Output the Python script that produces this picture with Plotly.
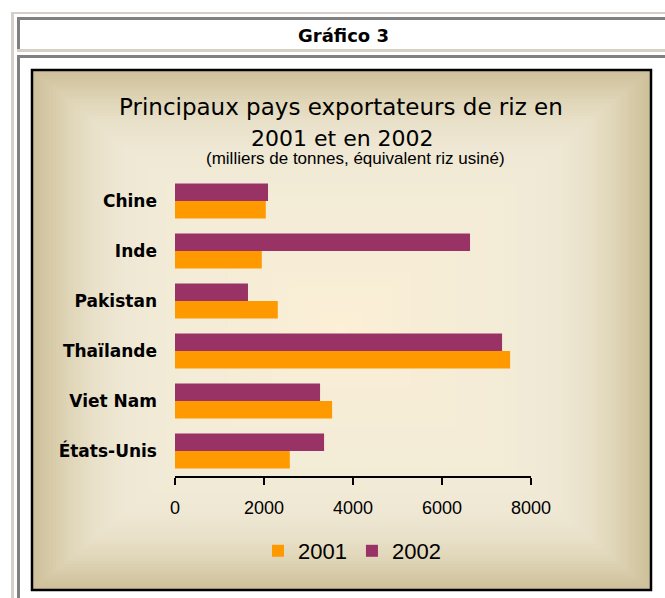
import plotly.graph_objects as go

# ---- data ----
countries = ["Chine", "Inde", "Pakistan", "Thaïlande", "Viet Nam", "États-Unis"]
exports_2001 = [2040, 1950, 2310, 7530, 3530, 2580]
exports_2002 = [2090, 6630, 1640, 7350, 3260, 3350]
series_names = ["2001", "2002"]
x_ticks = [0, 2000, 4000, 6000, 8000]

header_text = "Gráfico 3"
title_line1 = "Principaux pays exportateurs de riz en"
title_line2 = "2001 et en 2002"
subtitle = "(milliers de tonnes, équivalent riz usiné)"

# ---- layout geometry (pixels) ----
W, H = 665, 598
L, R, T, B = 175, 531, 176, 476  # plot area in pixels
PW, PH = R - L, B - T


def px(x):
    return (x - L) / PW


def py(y):
    return (B - y) / PH


fig = go.Figure()
fig.add_trace(go.Bar(
    y=countries, x=exports_2001, name=series_names[0], orientation="h",
    marker=dict(color="#FF9900", line=dict(width=0)),
))
fig.add_trace(go.Bar(
    y=countries, x=exports_2002, name=series_names[1], orientation="h",
    marker=dict(color="#993366", line=dict(width=0)),
))

shapes = []


def rect(x0, y0, x1, y1, fill, line_color=None, lw=0):
    shapes.append(dict(
        type="rect", xref="paper", yref="paper", layer="below",
        x0=px(x0), x1=px(x1), y0=py(y1), y1=py(y0),
        fillcolor=fill,
        line=dict(width=lw, color=line_color or "rgba(0,0,0,0)"),
    ))


# table borders
LG, DG = "#d4d0c8", "#808080"
rect(11, 12, 670, 14, LG)
rect(11, 12, 14, 600, LG)
rect(17, 17, 670, 20, DG)
rect(17, 17, 20, 52, DG)
rect(17, 49, 670, 52, LG)
rect(17, 55, 670, 58, DG)
rect(17, 55, 20, 600, DG)

# gradient background of the chart image (nested rectangles)
stops = [
    (1.00, (206, 192, 154)),
    (0.95, (213, 201, 166)),
    (0.89, (223, 213, 183)),
    (0.81, (232, 224, 200)),
    (0.70, (239, 232, 212)),
    (0.50, (243, 236, 215)),
    (0.25, (247, 237, 214)),
    (0.00, (252, 240, 214)),
]


def color_at(t):
    for (t0, c0), (t1, c1) in zip(stops[:-1], stops[1:]):
        if t1 <= t <= t0:
            f = (t0 - t) / (t0 - t1) if t0 != t1 else 0
            c = [round(a + (b - a) * f) for a, b in zip(c0, c1)]
            return "rgb(%d,%d,%d)" % tuple(c)
    return "rgb(%d,%d,%d)" % stops[-1][1]


IX0, IY0, IX1, IY1 = 32, 70, 651, 590
cx, cy = (IX0 + IX1) / 2, 330
hwl, hwr = cx - IX0, IX1 - cx
hht, hhb = cy - IY0, IY1 - cy
n = 90
for i in range(n):
    t = 1 - i / n
    rect(cx - t * hwl, cy - t * hht, cx + t * hwr, cy + t * hhb, color_at(t))
# image border
shapes.append(dict(
    type="rect", xref="paper", yref="paper", layer="below",
    x0=px(IX0), x1=px(IX1), y0=py(IY1), y1=py(IY0),
    fillcolor="rgba(0,0,0,0)", line=dict(width=2.5, color="black"),
))

annotations = [
    dict(text="<b>" + header_text + "</b>", x=px(343), y=py(35),
         font=dict(family="DejaVu Sans, Verdana, sans-serif", size=18, color="black")),
    dict(text=title_line1, x=px(341), y=py(107),
         font=dict(family="DejaVu Sans, Verdana, sans-serif", size=23, color="black")),
    dict(text=title_line2, x=px(342), y=py(138),
         font=dict(family="DejaVu Sans, Verdana, sans-serif", size=22, color="black")),
    dict(text=subtitle, x=px(355), y=py(158),
         font=dict(family="Liberation Sans, Arial, sans-serif", size=17, color="black")),
]
for a in annotations:
    a.update(xref="paper", yref="paper", showarrow=False,
             xanchor="center", yanchor="middle")

fig.update_layout(
    width=W, height=H, autosize=False,
    margin=dict(l=L, r=W - R, t=T, b=H - B, pad=0),
    paper_bgcolor="white", plot_bgcolor="rgba(0,0,0,0)",
    barmode="group", bargap=0.3, bargroupgap=0,
    shapes=shapes, annotations=annotations,
    showlegend=True,
    legend=dict(
        orientation="h", x=px(352), y=py(551), xanchor="center", yanchor="middle",
        bgcolor="rgba(0,0,0,0)", font=dict(family="Liberation Sans, Arial, sans-serif", size=22, color="black"),
        itemwidth=30, tracegroupgap=0,
    ),
    xaxis=dict(
        range=[0, 8000], tickvals=x_ticks, ticktext=[str(v) for v in x_ticks],
        showgrid=False, zeroline=False, showline=True, linecolor="black", linewidth=2,
        ticks="outside", ticklen=7, tickwidth=2, tickcolor="black",
        tickfont=dict(family="Liberation Sans, Arial, sans-serif", size=18, color="black"),
        ticklabelstandoff=7, fixedrange=True,
    ),
    yaxis=dict(
        categoryorder="array", categoryarray=countries[::-1],
        showgrid=False, zeroline=False, showline=False, ticks="",
        tickfont=dict(family="DejaVu Sans, Verdana, sans-serif", size=17, color="black", weight="bold"),
        ticklabelstandoff=17, fixedrange=True,
    ),
)

fig.write_html("out.html", config={"displayModeBar": False},
               post_script="document.body.style.margin='0';")
